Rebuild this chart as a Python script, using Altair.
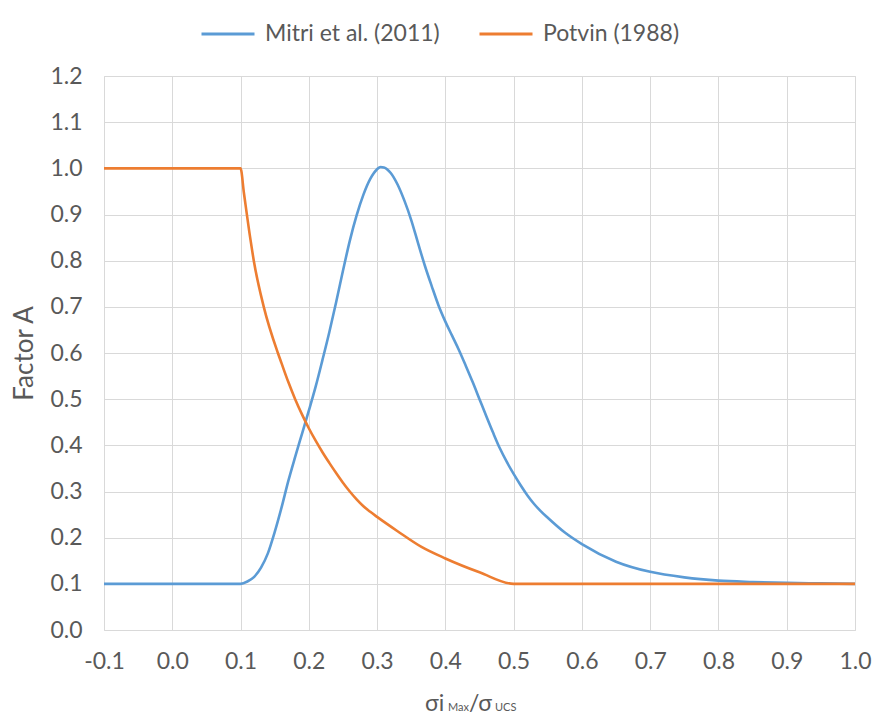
import altair as alt
import pandas as pd

# ---- data ----
mitri_x = [-0.1, 0.0, 0.1, 0.11, 0.12, 0.13, 0.14, 0.15, 0.16, 0.17, 0.18, 0.19, 0.2, 0.21, 0.22,
           0.23, 0.24, 0.25, 0.26, 0.27, 0.28, 0.29, 0.3, 0.305, 0.31, 0.32, 0.33, 0.34, 0.35,
           0.36, 0.37, 0.38, 0.39, 0.40, 0.41, 0.42, 0.43, 0.44, 0.45, 0.46, 0.47, 0.48, 0.49,
           0.5, 0.51, 0.52, 0.53, 0.54, 0.55, 0.575, 0.6, 0.65, 0.7, 0.75, 0.8, 0.85, 0.9, 0.95,
           1.0]
mitri_y = [0.1, 0.1, 0.1, 0.105, 0.115, 0.135, 0.166, 0.212, 0.265, 0.323, 0.375, 0.425, 0.475,
           0.527, 0.585, 0.645, 0.71, 0.778, 0.843, 0.898, 0.943, 0.977, 0.998, 1.003, 1.002,
           0.99, 0.965, 0.93, 0.888, 0.838, 0.789, 0.745, 0.703, 0.668, 0.637, 0.606, 0.572,
           0.537, 0.5, 0.463, 0.427, 0.393, 0.364, 0.338, 0.314, 0.292, 0.273, 0.257, 0.243,
           0.211, 0.186, 0.148, 0.126, 0.114, 0.107, 0.104, 0.102, 0.101, 0.1]

potvin_x = [-0.1, 0.0, 0.1, 0.105, 0.1145, 0.1194, 0.134, 0.1547, 0.16, 0.17, 0.18, 0.19, 0.2,
            0.21, 0.22, 0.23, 0.24, 0.25, 0.26, 0.27, 0.28, 0.29, 0.3, 0.33, 0.365, 0.4, 0.45,
            0.5, 0.6, 0.7, 0.8, 0.9, 1.0]
potvin_y = [1.0, 1.0, 1.0, 0.946, 0.846, 0.8, 0.7, 0.6, 0.578, 0.537, 0.5, 0.467, 0.437,
            0.41, 0.385, 0.362, 0.34, 0.319, 0.3, 0.283, 0.268, 0.256, 0.245, 0.214, 0.18, 0.155,
            0.125, 0.1, 0.1, 0.1, 0.1, 0.1, 0.1]

series_names = ["Mitri et al. (2011)", "Potvin (1988)"]
series_colors = ["#5B9BD5", "#ED7D31"]
x_ticks = [-0.1, 0.0, 0.1, 0.2, 0.3, 0.4, 0.5, 0.6, 0.7, 0.8, 0.9, 1.0]
y_ticks = [0.0, 0.1, 0.2, 0.3, 0.4, 0.5, 0.6, 0.7, 0.8, 0.9, 1.0, 1.1, 1.2]

# x-axis title pieces (text, font size)
xtitle_parts = [("σi", 23), ("Max", 11), ("/σ", 23), ("UCS", 11)]

rows = []
for i, (xs, ys) in enumerate([(mitri_x, mitri_y), (potvin_x, potvin_y)]):
    for k, (a, b) in enumerate(zip(xs, ys)):
        rows.append({"x": a, "y": b, "series": series_names[i], "order": k})
df = pd.DataFrame(rows)

FONT = "Lato"
TXT = "#595959"
W, H = 751, 554

lines = alt.Chart(df).mark_line(strokeWidth=2.6, interpolate="monotone").encode(
    x=alt.X("x:Q",
            scale=alt.Scale(domain=[-0.1, 1.0], nice=False, zero=False),
            axis=alt.Axis(values=x_ticks, title=None, grid=True, ticks=False, domain=False,
                          labelExpr="replace(format(datum.value, '.1f'), '\u2212', '-')",
                          labelPadding=20, labelFontSize=23, labelFont=FONT, labelColor=TXT,
                          gridColor="#d9d9d9", labelFlush=False)),
    y=alt.Y("y:Q",
            scale=alt.Scale(domain=[0, 1.2], nice=False),
            axis=alt.Axis(values=y_ticks, title="Factor A", grid=True, ticks=False, domain=False,
                          format=".1f", labelPadding=22, labelFontSize=23, labelFont=FONT,
                          labelColor=TXT, gridColor="#d9d9d9", titleFont=FONT, titleFontSize=26,
                          titleFontWeight="normal", titleColor=TXT, titlePadding=12)),
    color=alt.Color("series:N",
                    scale=alt.Scale(domain=series_names, range=series_colors),
                    legend=alt.Legend(title=None, orient="none", legendX=96, legendY=-70,
                                      direction="horizontal", symbolType="stroke",
                                      symbolSize=2809, symbolStrokeWidth=3,
                                      labelFont=FONT, labelFontSize=23, labelColor=TXT,
                                      labelLimit=0, labelOffset=9, columnPadding=33)),
    order="order:Q",
)

# x axis title, built from pieces with different sizes
xpos = [321, 344, 365, 391]
title_layers = []
for (txt, fs), px in zip(xtitle_parts, xpos):
    title_layers.append(
        alt.Chart(pd.DataFrame({"t": [txt]})).mark_text(
            font=FONT, fontSize=fs, color=TXT, align="left", baseline="alphabetic"
        ).encode(text="t:N", x=alt.value(px), y=alt.value(635))
    )

chart = alt.layer(lines, *title_layers).properties(
    width=W, height=H,
    autosize=alt.AutoSizeParams(type="none"),
    padding={"left": 104, "top": 76, "right": 21, "bottom": 89},
).configure_view(stroke=None).configure(background="white")

chart.save("out.html", embed_options={"renderer": "svg", "actions": False})
